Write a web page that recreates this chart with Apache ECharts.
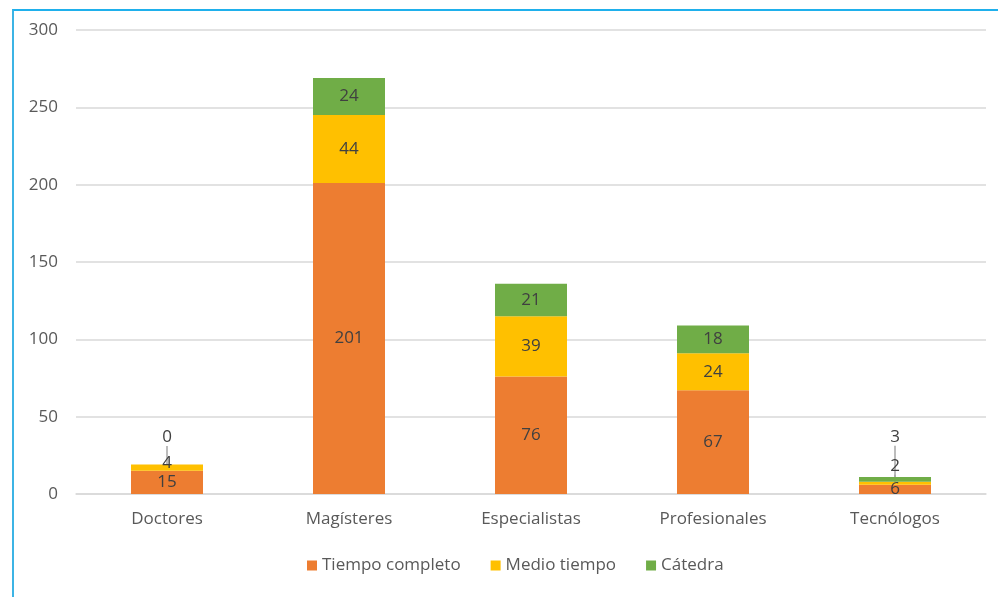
<!DOCTYPE html>
<html>
<head>
<meta charset="utf-8">
<script src="https://cdn.jsdelivr.net/npm/echarts@6/dist/echarts.min.js"></script>
<style>
html,body{margin:0;padding:0;background:#fff;}
#chart{position:absolute;left:0;top:0;width:998px;height:597px;}
#frame{position:absolute;left:12px;top:9px;width:990px;height:586px;border-left:2px solid #3cb4e5;border-top:2px solid #1fb0ec;border-bottom:1px solid #d9d9d9;pointer-events:none;}
</style>
</head>
<body>
<div id="chart"></div>
<div id="frame"></div>
<script>
const categories = ['Doctores', 'Magísteres', 'Especialistas', 'Profesionales', 'Tecnólogos'];
const tiempoCompleto = [15, 201, 76, 67, 6];
const medioTiempo = [4, 44, 39, 24, 2];
const catedra = [0, 24, 21, 18, 3];
const yTicks = [0, 50, 100, 150, 200, 250, 300];

const FONT = 'Open Sans';
const FS = 17;
const labelStyle = {show: true, position: 'inside', color: '#404040', fontSize: FS, fontFamily: FONT};

// label offsets for crowded small segments [seriesIndex-dataIndex]
const moves = {'1-0': -5, '1-4': -17, '2-0': -27, '2-4': -42};
const withLine = {'1-4': true, '2-0': true, '2-4': true};

function mk(name, data, color, si) {
  return {
    name: name,
    type: 'bar',
    stack: 'total',
    barWidth: 72,
    data: data.map((v, i) => {
      const o = {value: v};
      if (withLine[si + '-' + i]) {
        o.labelLine = {show: true, lineStyle: {color: '#a6a6a6', width: 1.5}};
      }
      return o;
    }),
    itemStyle: {color: color},
    label: labelStyle,
    labelLine: {show: false},
    labelLayout: function (p) {
      const d = moves[si + '-' + p.dataIndex];
      return d !== undefined ? {dy: d} : {};
    }
  };
}

const chart = echarts.init(document.getElementById('chart'), null, {renderer: 'canvas'});
chart.setOption({
  animation: false,
  textStyle: {fontFamily: FONT},
  grid: {left: 76, right: 12, top: 30, bottom: 103, containLabel: false},
  legend: {
    data: ['Tiempo completo', 'Medio tiempo', 'Cátedra'],
    bottom: 18,
    left: 302,
    itemWidth: 10,
    itemHeight: 10,
    itemGap: 30,
    icon: 'rect',
    textStyle: {color: '#595959', fontSize: FS, fontFamily: FONT}
  },
  xAxis: {
    type: 'category',
    data: categories,
    axisLine: {lineStyle: {color: '#d9d9d9', width: 1.5}},
    axisTick: {show: false},
    axisLabel: {color: '#595959', fontSize: FS, margin: 17, fontFamily: FONT}
  },
  yAxis: {
    type: 'value',
    min: yTicks[0],
    max: yTicks[yTicks.length - 1],
    interval: 50,
    axisLine: {show: false},
    axisTick: {show: false},
    splitLine: {lineStyle: {color: '#d9d9d9', width: 1.5}},
    axisLabel: {color: '#595959', fontSize: FS, margin: 18, fontFamily: FONT}
  },
  series: [
    mk('Tiempo completo', tiempoCompleto, '#ED7D31', 0),
    mk('Medio tiempo', medioTiempo, '#FFC000', 1),
    mk('Cátedra', catedra, '#70AD47', 2)
  ]
});
</script>
</body>
</html>
